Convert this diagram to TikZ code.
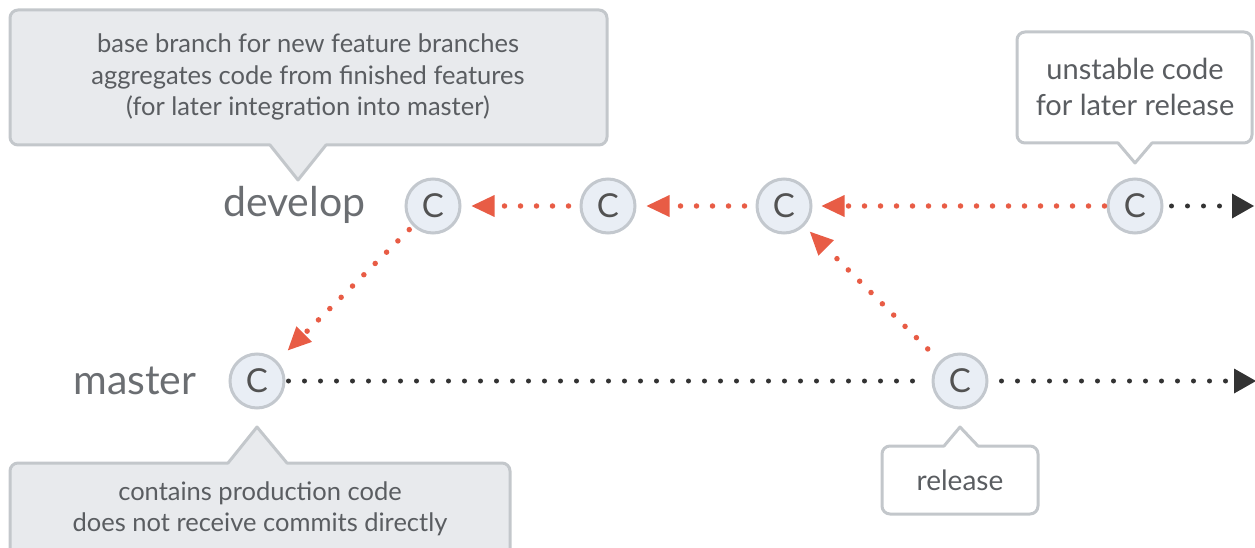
\documentclass[tikz,border=0pt]{standalone}
\usepackage{fontspec}
\setmainfont{Lato}
\usetikzlibrary{arrows.meta}

\definecolor{commitfill}{HTML}{E9EEF5}
\definecolor{commitline}{HTML}{C3C8CE}
\definecolor{notefill}{HTML}{E8EAED}
\definecolor{noteline}{HTML}{C3C7CB}
\definecolor{flowred}{HTML}{E85C45}
\definecolor{flowdark}{HTML}{333333}
\definecolor{txt}{HTML}{5A5D61}
\definecolor{lbl}{HTML}{6B6E72}

\tikzset{
  commit/.style={circle, draw=commitline, fill=commitfill, line width=3pt,
    minimum size=54pt, inner sep=0pt, text=flowdark!85,
    font=\fontsize{33}{33}\selectfont},
  branchlabel/.style={anchor=east, text=lbl, font=\fontsize{41}{41}\selectfont},
  notetext/.style={align=center, text=txt, font=\fontsize{25.5}{31.5}\selectfont},
  greynote/.style={draw=noteline, fill=notefill, line width=3pt, line join=round},
  whitenote/.style={draw=noteline, fill=white, line width=3pt, line join=round},
  reddots/.style={draw=flowred, line width=5.5pt, line cap=round,
    dash pattern=on 0pt off 16pt,
    -{Triangle[length=23pt, width=22pt, fill=flowred, line width=0pt]}},
  darkdots/.style={draw=flowdark, line width=5pt, line cap=round,
    dash pattern=on 0pt off 16pt},
  darkarrow/.style={darkdots,
    -{Triangle[length=22pt, width=25pt, fill=flowdark, line width=0pt]}}
}

\begin{document}
\begin{tikzpicture}[x=1pt, y=-1pt]
  \useasboundingbox (0,0) rectangle (1255,548);
  \clip (0,0) rectangle (1255,548);

  % callouts
  \draw[greynote] (298,180) -- (326,145) [rounded corners=8pt] -- (607,145) -- (607,10)
    -- (10,10) -- (10,145) [sharp corners] -- (270,145) -- cycle;
  \draw[whitenote] (1135,163) -- (1152,143) [rounded corners=8pt] -- (1252,143) -- (1252,32)
    -- (1017,32) -- (1017,143) [sharp corners] -- (1118,143) -- cycle;
  \draw[greynote] (257,427) -- (287,463) [rounded corners=8pt] -- (510,463) -- (510,570)
    -- (10,570) -- (10,463) [sharp corners] -- (228,463) -- cycle;
  \draw[whitenote] (960,427) -- (978,446) [rounded corners=8pt] -- (1038,446) -- (1038,514)
    -- (882,514) -- (882,446) [sharp corners] -- (944,446) -- cycle;

  \node[notetext] (devnote) at (308,77) {base branch for new feature branches\\
    aggregates code from finished features\\(for later integration into master)};
  \node[notetext, font=\fontsize{29}{36}\selectfont] (unstable) at (1135,87)
    {unstable code\\for later release};
  \node[notetext] (masternote) at (260,509) {contains production code\\
    does not receive commits directly};
  \node[notetext, font=\fontsize{28}{30}\selectfont] (relnote) at (960,480) {release};

  % branch names
  \node[branchlabel] (devlabel) at (369,205) {develop};
  \node[branchlabel] (masterlabel) at (200,381) {master};

  % commits
  \node[commit] (d1) at (433,206) {C};
  \node[commit] (d2) at (608,206) {C};
  \node[commit] (d3) at (784,206) {C};
  \node[commit] (d4) at (1135,206) {C};
  \node[commit] (m1) at (257,381) {C};
  \node[commit] (m2) at (960,381) {C};

  \coordinate (devend) at (1254,206);
  \coordinate (masterend) at (1256,381);

  % history on develop
  \draw[reddots, shorten <=11pt, shorten >=10pt] (d2) -- (d1);
  \draw[reddots, shorten <=11pt, shorten >=10pt] (d3) -- (d2);
  \draw[reddots, shorten <=2pt, shorten >=9pt] (d4) -- (d3);
  \draw[darkarrow, shorten <=8pt] (d4) -- (devend);

  % merges between the branches
  \draw[reddots, shorten <=5pt, shorten >=15pt] (d1) -- (m1);
  \draw[reddots, shorten <=17pt, shorten >=8pt] (m2) -- (d3);

  % history on master
  \draw[darkdots, shorten <=3pt, shorten >=10pt] (m1) -- (m2);
  \draw[darkarrow, shorten <=13pt] (m2) -- (masterend);
\end{tikzpicture}
\end{document}
